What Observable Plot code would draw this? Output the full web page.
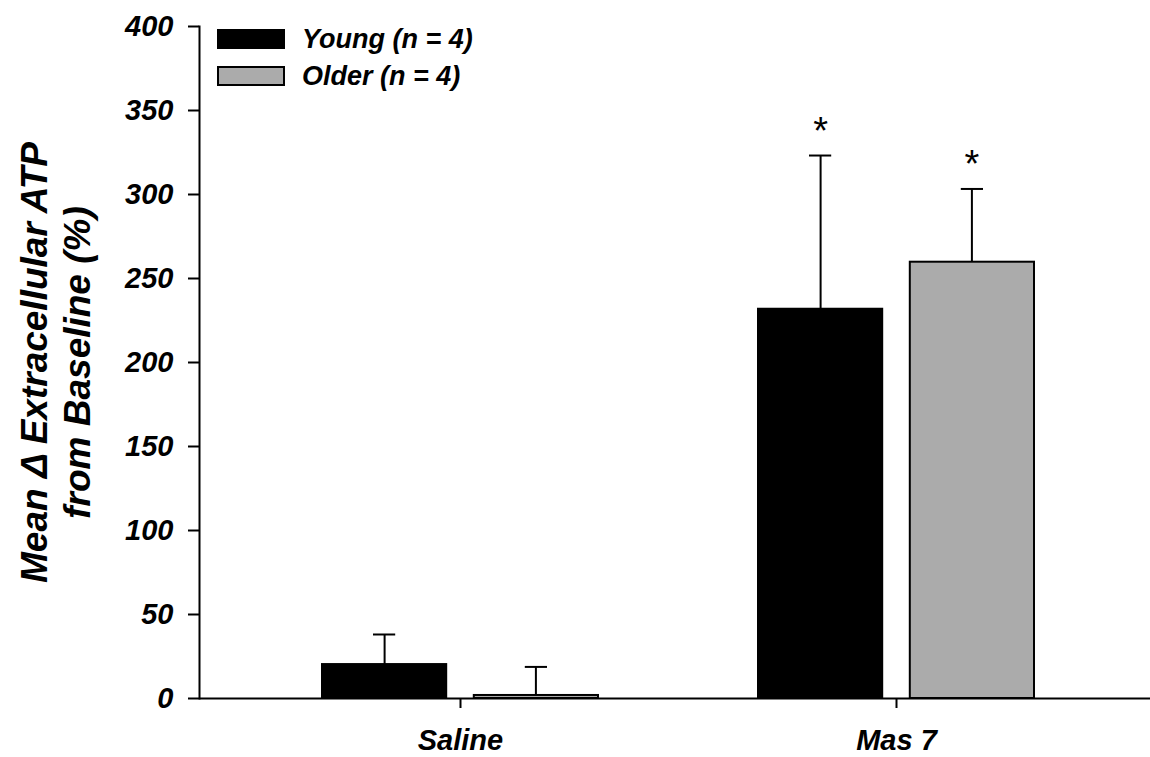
<!DOCTYPE html>
<html><head><meta charset="utf-8">
<script src="https://cdn.jsdelivr.net/npm/d3@7"></script>
<script src="https://cdn.jsdelivr.net/npm/@observablehq/plot@0.6"></script>
<style>
body{margin:0;background:#fff;}
#wrap{position:relative;width:1150px;height:757px;font-family:"Liberation Sans",Arial,sans-serif;}
.legend{position:absolute;left:217px;top:29px;}
.row{display:flex;align-items:center;height:20px;margin-bottom:17px;}
.sw{width:68px;height:20px;box-sizing:border-box;border:2px solid #000;}
.lab{margin-left:17px;font-size:27px;font-weight:bold;font-style:italic;line-height:20px;white-space:nowrap;}
</style></head><body>
<div id="wrap"></div>
<script>
const categories = ["Saline", "Mas 7"];
const groups = ["Young (n = 4)", "Older (n = 4)"];
const youngMean = [20.2, 231.7];
const youngSem = [17.9, 91.5];
const olderMean = [1.8, 259.7];
const olderSem = [17.0, 43.6];
const youngSig = ["", "*"];
const olderSig = ["", "*"];
const yTicks = [0, 50, 100, 150, 200, 250, 300, 350, 400];
const groupColors = ["#000000", "#ababab"];
const yLabel = "Mean \u0394 Extracellular ATP\nfrom Baseline (%)";

const young = categories.map((c, i) => ({category: c, group: groups[0], mean: youngMean[i], top: youngMean[i] + youngSem[i], sig: youngSig[i]}));
const older = categories.map((c, i) => ({category: c, group: groups[1], mean: olderMean[i], top: olderMean[i] + olderSem[i], sig: olderSig[i]}));

// layout (pixels) for the two bars inside each category band
const barW = 124, capW = 22, bandW = 275.8;
const offY = -(bandW / 2 - barW / 2);   // young bar centre relative to band centre
const offO = bandW / 2 - barW / 2 - 0.5;

function groupMarks(data, color, insetL, insetR, off) {
  const cL = insetL + barW / 2 - capW / 2;
  const cR = bandW - (insetL + barW / 2 + capW / 2);
  return [
    Plot.barY(data, {x: "category", y: "mean", fill: color, stroke: "#000", strokeWidth: 2, insetLeft: insetL, insetRight: insetR}),
    Plot.ruleX(data, {x: "category", y1: "mean", y2: "top", dx: off, stroke: "#000", strokeWidth: 2}),
    Plot.tickY(data, {x: "category", y: "top", insetLeft: cL, insetRight: cR, stroke: "#000", strokeWidth: 2}),
    Plot.text(data, {x: "category", y: "top", text: "sig", dx: off, dy: -24, fontSize: 38, fontWeight: "normal", fontStyle: "normal", fill: "#000", lineAnchor: "middle"})
  ];
}

const chart = Plot.plot({
  width: 1150,
  height: 757,
  marginLeft: 199,
  marginRight: 0,
  marginTop: 26,
  marginBottom: 59,
  style: {fontFamily: "'Liberation Sans', Arial, sans-serif", fontWeight: "bold", fontStyle: "italic", color: "#000", background: "#fff"},
  x: {domain: categories, paddingInner: 0.368, paddingOuter: 0.2735, align: 0.515, axis: null},
  y: {domain: [0, 400], axis: null},
  marks: [
    Plot.axisY({ticks: yTicks, tickSize: 11, tickPadding: 15, fontSize: 29, strokeWidth: 2, label: null, tickFormat: d => String(d)}),
    Plot.axisX({tickSize: 10, tickPadding: 21, fontSize: 29, strokeWidth: 2, label: null}),
    Plot.frame({anchor: "left", strokeWidth: 2}),
    Plot.ruleY([0], {strokeWidth: 2}),
    ...groupMarks(young, groupColors[0], 0, bandW - barW, offY),
    ...groupMarks(older, groupColors[1], bandW - barW, 0, offO),
    Plot.text([yLabel], {frameAnchor: "left", rotate: -90, dx: -145, fontSize: 37, lineHeight: 1.17, textAnchor: "middle", lineAnchor: "middle", fill: "#000"})
  ]
});

const wrap = document.getElementById("wrap");
wrap.appendChild(chart);

const legend = document.createElement("div");
legend.className = "legend";
groups.forEach((g, i) => {
  const row = document.createElement("div");
  row.className = "row";
  const sw = document.createElement("div");
  sw.className = "sw";
  sw.style.background = groupColors[i];
  const lab = document.createElement("div");
  lab.className = "lab";
  lab.textContent = g;
  row.appendChild(sw);
  row.appendChild(lab);
  legend.appendChild(row);
});
wrap.appendChild(legend);
</script>
</body></html>
